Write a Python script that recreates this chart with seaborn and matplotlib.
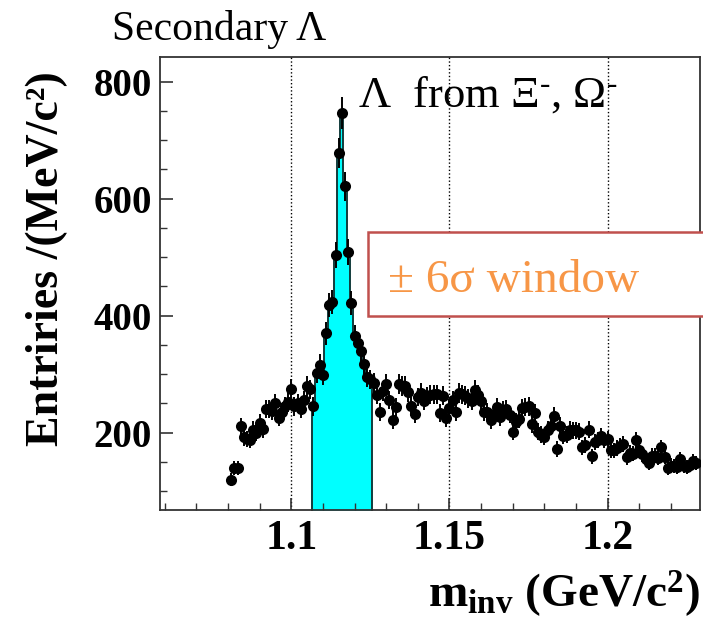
import numpy as np
import pandas as pd
import matplotlib
matplotlib.use("Agg")
import matplotlib.pyplot as plt
import seaborn as sns
from matplotlib.patches import Rectangle
from matplotlib.ticker import FixedLocator, MultipleLocator

# ---------------- data ----------------
# invariant-mass bin centres (MeV/c^2), 1 MeV bins
mass_mev = list(range(1081, 1229))
entries = [
    120, 140, 140, 211, 192, 190, 188, 205, 200, 217,   # 1081-1090
    206, 241, 240, 238, 251, 226, 235, 245, 252, 275,   # 1091-1100
    245, 250, 241, 256, 280, 274, 245, 302, 316, 298,   # 1101-1110
    370, 419, 424, 504, 678, 746, 621, 509, 422, 365,   # 1111-1120
    353, 340, 318, 296, 291, 285, 265, 236, 271, 283,   # 1121-1130
    256, 222, 244, 283, 280, 280, 269, 245, 232, 261,   # 1131-1140
    268, 254, 262, 265, 266, 266, 234, 263, 225, 242,   # 1141-1150
    256, 236, 268, 266, 263, 259, 255, 273, 265, 254,   # 1151-1160
    236, 235, 221, 232, 244, 227, 239, 240, 231, 201,   # 1161-1170
    219, 223, 242, 244, 245, 215, 234, 202, 197, 193,   # 1171-1180
    205, 211, 229, 172, 212, 195, 197, 205, 204, 204,   # 1181-1190
    202, 175, 179, 205, 160, 184, 188, 194, 188, 189,   # 1191-1200
    170, 170, 174, 178, 181, 158, 166, 164, 188, 170,   # 1201-1210
    163, 155, 148, 161, 161, 157, 175, 159, 140, 144,   # 1211-1220
    143, 142, 155, 143, 142, 145, 152, 148,             # 1221-1228
]
window_lo_mev = 1106.5
window_hi_mev = 1125.5

x_ticks = [1.1, 1.15, 1.2]
x_tick_labels = ["1.1", "1.15", "1.2"]
y_ticks = [200, 400, 600, 800]
y_tick_labels = ["200", "400", "600", "800"]

# ---------------- style ----------------
sns.set_theme(style="ticks")
plt.rcParams.update({
    "font.family": ["Liberation Serif", "DejaVu Serif"],
    "mathtext.fontset": "custom",
    "mathtext.rm": "Liberation Serif",
    "mathtext.it": "Liberation Serif:italic",
    "mathtext.bf": "Liberation Serif:bold",
    "axes.edgecolor": "#333333",
    "axes.linewidth": 1.3,
    "text.color": "black",
    "axes.labelcolor": "black",
    "xtick.labelcolor": "black",
    "ytick.labelcolor": "black",
})

df = pd.DataFrame({"mass": np.array(mass_mev) / 1000.0, "entries": entries})
df["err"] = np.sqrt(df["entries"])
win = df[(df["mass"] > window_lo_mev / 1000) & (df["mass"] < window_hi_mev / 1000)]
edges = [(m + 0.5) / 1000.0 for m in range(int(window_lo_mev), int(window_hi_mev) + 1)]

fig = plt.figure(figsize=(7.03, 6.2), dpi=100)
ax = fig.add_axes([160 / 703, 1 - 510 / 620, 540 / 703, 453 / 620])

sns.histplot(data=win, x="mass", weights="entries", bins=edges, element="step",
             fill=True, color="#00ffff", alpha=1.0, edgecolor="#123c3c",
             linewidth=1.4, ax=ax, zorder=2)

ax.errorbar(df["mass"], df["entries"], yerr=df["err"], fmt="none",
            ecolor="black", elinewidth=1.4, capsize=0, zorder=3)
sns.scatterplot(data=df, x="mass", y="entries", color="black", s=64,
                edgecolor="black", linewidth=0, ax=ax, zorder=4, legend=False)

ax.set_xlim(1.0585, 1.2292)
ax.set_ylim(68, 842)

ax.xaxis.set_major_locator(FixedLocator(x_ticks))
ax.xaxis.set_minor_locator(MultipleLocator(0.01))
ax.yaxis.set_major_locator(FixedLocator(y_ticks))
ax.yaxis.set_minor_locator(MultipleLocator(50))
ax.set_xticklabels(x_tick_labels, fontsize=30, fontweight="bold")
ax.set_yticklabels(y_tick_labels, fontsize=28, fontweight="bold")
ax.tick_params(which="major", direction="in", length=9, width=1.2,
               top=False, right=False, color="#333333")
ax.tick_params(which="minor", direction="in", length=5, width=1.0,
               top=False, right=False, color="#333333")
ax.tick_params(axis="x", which="major", pad=7)
ax.tick_params(axis="y", which="major", pad=6)

ax.grid(True, axis="x", which="major", linestyle=(0, (1, 1.6)),
        color="black", linewidth=1.0)
ax.set_axisbelow(False)

ax.set_ylabel("Entriries /(MeV/c²)", fontsize=33, fontweight="bold")
ax.yaxis.set_label_coords(-0.170, 0.555)
ax.set_xlabel(r"$\mathbf{m_{inv}}$ $\mathbf{(GeV/c^{2})}$", fontsize=34, loc="right")
ax.xaxis.set_label_coords(1.0, -0.128)

fig.text(112 / 703, 1 - 40 / 620, "Secondary Λ", fontsize=30, ha="left",
         va="baseline", color="black")
fig.text(358 / 703, 1 - 107 / 620, r"$\Lambda$  from $\Xi^{\text{-}}$, $\Omega^{\text{-}}$",
         fontsize=32, ha="left", va="baseline", color="black")

box = Rectangle((368 / 703, 1 - 316 / 620), 340 / 703, 84 / 620,
                transform=fig.transFigure, fill=True, facecolor="white",
                edgecolor="#c0504d", linewidth=1.8, clip_on=False, zorder=5)
fig.add_artist(box)
fig.text(388 / 703, 1 - 292 / 620, "± 6σ window", fontsize=34, ha="left",
         va="baseline", color="#f79646", zorder=6)

fig.savefig("out.png", dpi=100)
